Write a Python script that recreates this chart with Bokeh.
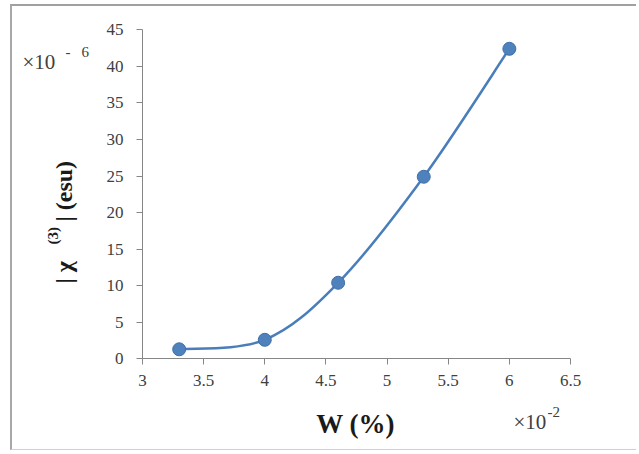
import math
from bokeh.plotting import figure
from bokeh.models import Range1d, FixedTicker, Label
from bokeh.embed import file_html
from bokeh.resources import INLINE

# ---- data ----
w_percent = [3.3, 4.0, 4.6, 5.3, 6.0]          # W (%) x 10^-2
chi3 = [1.3, 2.6, 10.4, 24.9, 42.4]            # |chi(3)| (esu) x 10^-6
x_ticks = [3, 3.5, 4, 4.5, 5, 5.5, 6, 6.5]
x_tick_labels = ["3", "3.5", "4", "4.5", "5", "5.5", "6", "6.5"]
y_ticks = [0, 5, 10, 15, 20, 25, 30, 35, 40, 45]
x_lo, x_hi = 3, 6.5
y_lo, y_hi = 0, 45

SERIF = "Liberation Serif"
AXIS_GRAY = "#868686"
TEXT_GRAY = "#404040"
BLUE = "#4a7ebb"

# ---- layout (pixels) ----
W, H = 626, 446                      # canvas size
AX_L, AX_R = 130, 558                # plot area left/right inside canvas
AX_T, AX_B = 23.3, 352.3             # plot area top/bottom inside canvas
ux = (x_hi - x_lo) / (AX_R - AX_L)
uy = (y_hi - y_lo) / (AX_B - AX_T)
xr = Range1d(x_lo - AX_L * ux, x_hi + (W - AX_R) * ux)
yr = Range1d(y_lo - (H - AX_B) * uy, y_hi + AX_T * uy)

p = figure(width=W, height=H, output_backend="svg", toolbar_location=None,
           x_range=xr, y_range=yr,
           min_border_left=0, min_border_right=0, min_border_top=0, min_border_bottom=0)
p.styles = {"margin-top": "4px", "margin-left": "10px",
            "border-top": "2px solid #a0a0a0", "border-left": "2px solid #a8a8a8",
            "border-bottom": "1px solid #d0d0d0"}
p.xgrid.grid_line_color = None
p.ygrid.grid_line_color = None
p.outline_line_color = None
p.background_fill_color = "white"
p.border_fill_color = "white"

for ax in (p.xaxis[0], p.yaxis[0]):
    ax.axis_line_color = AXIS_GRAY
    ax.major_tick_line_color = AXIS_GRAY
    ax.minor_tick_line_color = None
    ax.major_tick_in = 0
    ax.major_tick_out = 6
    ax.major_label_text_font = SERIF
    ax.major_label_text_font_size = "17px"
    ax.major_label_text_color = TEXT_GRAY

p.xaxis.fixed_location = y_lo
p.xaxis.bounds = (x_lo, x_hi)
p.xaxis.ticker = FixedTicker(ticks=x_ticks)
p.xaxis.major_label_overrides = {float(t): s for t, s in zip(x_ticks, x_tick_labels)}
p.xaxis.major_label_standoff = 10
p.yaxis.fixed_location = x_lo
p.yaxis.bounds = (y_lo, y_hi)
p.yaxis.ticker = FixedTicker(ticks=y_ticks)
p.yaxis.major_label_standoff = 13

# ---- smoothed line (Catmull-Rom style Bezier, like a spreadsheet "smoothed line") ----
n = len(w_percent)
x0s, y0s, x1s, y1s, cx0s, cy0s, cx1s, cy1s = ([] for _ in range(8))
for i in range(n - 1):
    a = max(i - 1, 0)
    d = min(i + 2, n - 1)
    px0, py0 = w_percent[a], chi3[a]
    px1, py1 = w_percent[i], chi3[i]
    px2, py2 = w_percent[i + 1], chi3[i + 1]
    px3, py3 = w_percent[d], chi3[d]
    x0s.append(px1); y0s.append(py1)
    x1s.append(px2); y1s.append(py2)
    cx0s.append(px1 + (px2 - px0) / 6.0); cy0s.append(py1 + (py2 - py0) / 6.0)
    cx1s.append(px2 - (px3 - px1) / 6.0); cy1s.append(py2 - (py3 - py1) / 6.0)

p.bezier(x0=x0s, y0=y0s, x1=x1s, y1=y1s, cx0=cx0s, cy0=cy0s, cx1=cx1s, cy1=cy1s,
         line_color=BLUE, line_width=2.5)
p.scatter(w_percent, chi3, size=13, fill_color="#4f81bd", line_color="#3f6fa8", line_width=1)

# ---- texts (screen units from the canvas bottom-left) ----
def lab(text, x, y, size, bold=False, align="left", angle=0.0, color=TEXT_GRAY):
    p.add_layout(Label(x=x, y=y, x_units="screen", y_units="screen", text=text,
                       text_font=SERIF, text_font_size=size,
                       text_font_style="bold" if bold else "normal",
                       text_color=color, text_align=align, text_baseline="alphabetic",
                       angle=angle))

# y multiplier
lab("\u00d710", 10, 391, "21px")
lab("-", 53, 401, "15px")
lab("6", 69, 401, "15px")
# x multiplier
lab("\u00d710", 501, 31, "21px")
lab("-2", 535, 41, "15px")
# x axis title
lab("W (%)", 343, 29, "27px", bold=True, align="center", color="#1a1a1a")
# y axis title (rotated)
lab("| \u03c7", 51, 169, "24px", bold=True, angle=math.pi / 2, color="#1a1a1a")
lab("(3)", 40, 208, "15px", bold=True, angle=math.pi / 2, color="#1a1a1a")
lab("| (esu)", 51, 231, "24px", bold=True, angle=math.pi / 2, color="#1a1a1a")

open("out.html", "w").write(file_html(p, INLINE))
